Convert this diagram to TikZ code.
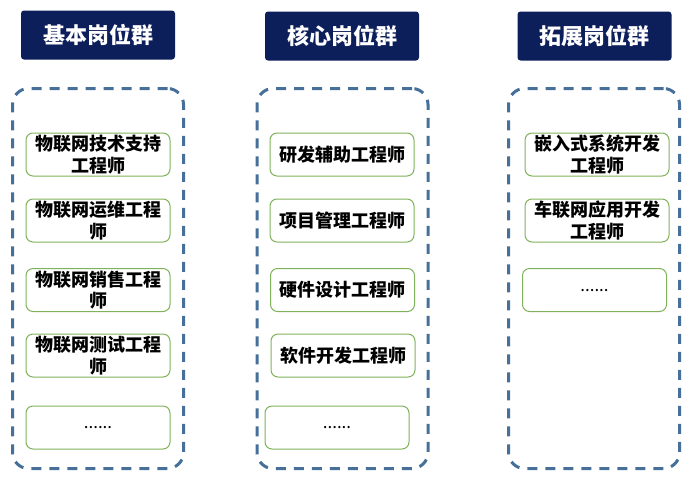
\documentclass[tikz,border=0pt]{standalone}
\usepackage{xcolor}
\usepackage{fontspec}
\setmainfont{Noto Sans CJK SC}
\usepackage{tikz}

\definecolor{navy}{HTML}{0C1F5B}
\definecolor{dashblue}{HTML}{46709A}
\definecolor{leafgreen}{HTML}{7FB25A}

\begin{document}
\begin{tikzpicture}[x=1pt,y=-1pt,
    every node/.style={align=center,inner sep=0pt},
    group/.style={shape=rectangle,fill=navy,text=white,rounded corners=3pt,minimum width=154pt,minimum height=49pt,font=\bfseries\fontsize{22}{26}\selectfont},
    frame/.style={shape=rectangle,draw=dashblue,line width=3pt,dash pattern=on 10pt off 8pt,rounded corners=16pt,minimum width=171pt,minimum height=380pt},
    job/.style={shape=rectangle,draw=leafgreen,line width=1pt,rounded corners=7pt,minimum width=144pt,minimum height=43pt,font=\bfseries\fontsize{18}{21.5}\selectfont},
    more/.style={job,font=\fontsize{17}{18}\selectfont}]
  \useasboundingbox (0,0) rectangle (693,482);
  % headers
  \node[group] (basic) at (98,35) {基本岗位群};
  \node[group] (core) at (342,36) {核心岗位群};
  \node[group] (ext) at (594.5,36) {拓展岗位群};
  % dashed groups
  \node[frame] (basicbox) at (98,278.5) {};
  \node[frame] (corebox) at (342.5,278.5) {};
  \node[frame] (extbox) at (594,278.5) {};
  % basic
  \node[job] (b1) at (98,154.5) {物联网技术支持\\工程师};
  \node[job] (b2) at (98,220.5) {物联网运维工程\\师};
  \node[job] (b3) at (98,290) {物联网销售工程\\师};
  \node[job] (b4) at (98,355.5) {物联网测试工程\\师};
  \node[more] (b5) at (98,427.5) {\raisebox{-3pt}{......}};
  % core
  \node[job] (c1) at (342,154.5) {研发辅助工程师};
  \node[job] (c2) at (342,220.5) {项目管理工程师};
  \node[job] (c3) at (342.5,290) {硬件设计工程师};
  \node[job] (c4) at (343,355.5) {软件开发工程师};
  \node[more] (c5) at (337,427.5) {\raisebox{-3pt}{......}};
  % ext
  \node[job] (e1) at (597,154.5) {嵌入式系统开发\\工程师};
  \node[job] (e2) at (597,220.5) {车联网应用开发\\工程师};
  \node[more] (e3) at (594.5,290) {\raisebox{-3pt}{......}};
\end{tikzpicture}
\end{document}
